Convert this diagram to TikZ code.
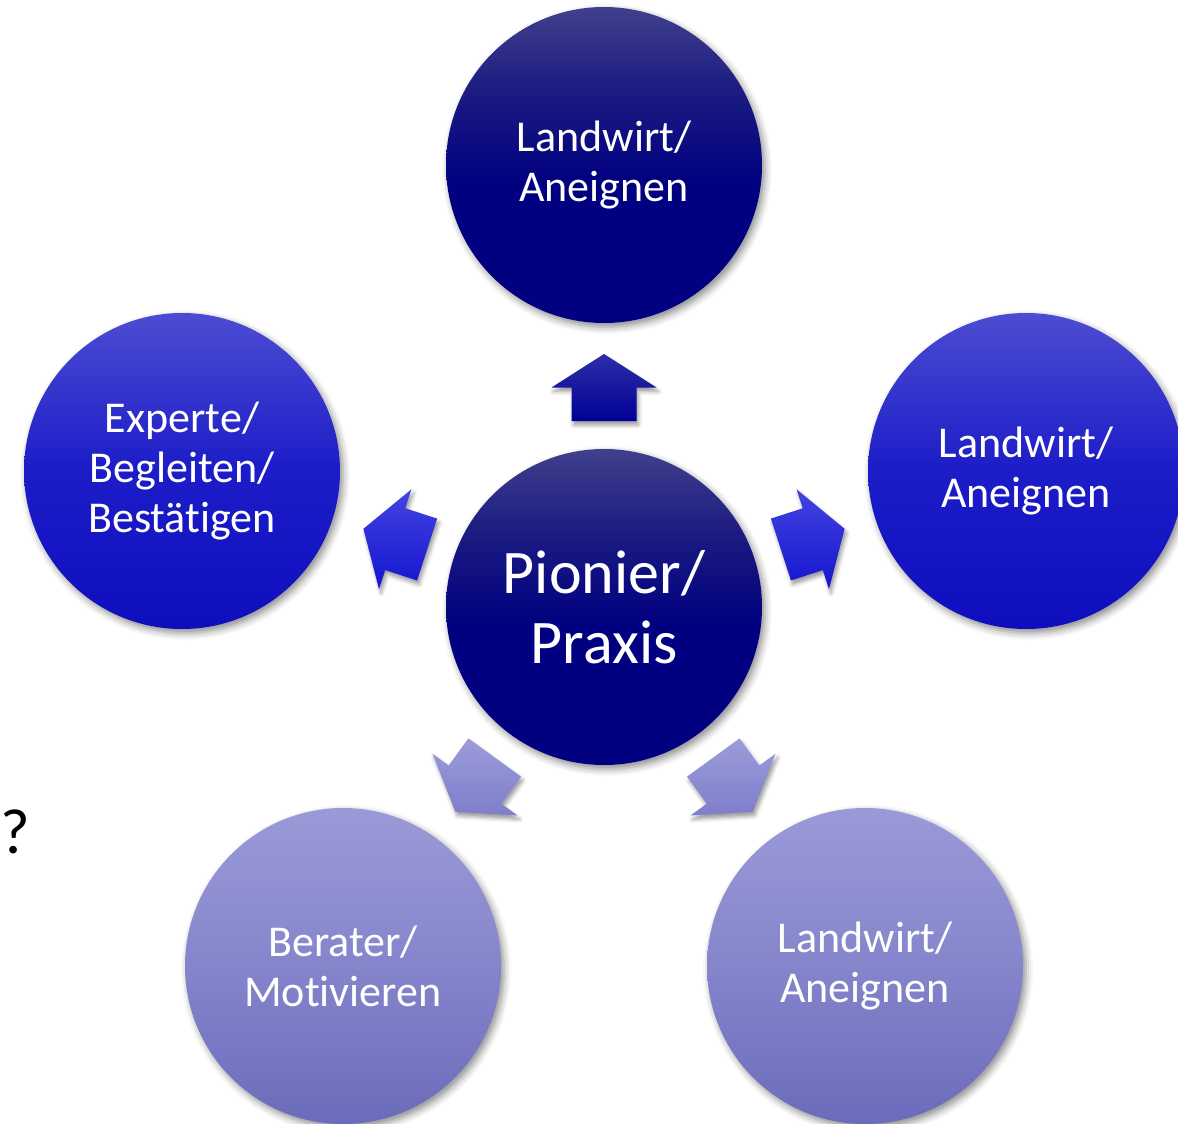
\documentclass[tikz,border=0pt]{standalone}
\usepackage{fontspec}
\setmainfont{Carlito}[Ligatures=NoCommon]
\usetikzlibrary{shadows.blur}

% disc colours: light top, dark bottom
\definecolor{navytop}{HTML}{40408C}
\definecolor{navymid}{HTML}{1C1C82}
\definecolor{navybot}{HTML}{000080}
\definecolor{bluetop}{HTML}{4C4CD2}
\definecolor{bluemid}{HTML}{1C1CC8}
\definecolor{bluebot}{HTML}{0E0EBE}
\definecolor{lilactop}{HTML}{9A9AD8}
\definecolor{lilacmid}{HTML}{8585CC}
\definecolor{lilacbot}{HTML}{6B6BBC}
% arrow colours
\definecolor{navyarrowtop}{HTML}{2E2EA8}
\definecolor{navyarrowbot}{HTML}{000096}
\definecolor{bluearrowtop}{HTML}{4444E2}
\definecolor{bluearrowbot}{HTML}{1414D0}
\definecolor{lilacarrowtop}{HTML}{9C9CDA}
\definecolor{lilacarrowbot}{HTML}{7E7ECC}

% the path is mapped onto 25bp..75bp
\pgfdeclareverticalshading{navyfade}{100bp}{color(0bp)=(navybot); color(47bp)=(navybot); color(62bp)=(navymid); color(75bp)=(navytop); color(100bp)=(navytop)}
\pgfdeclareverticalshading{bluefade}{100bp}{color(0bp)=(bluebot); color(25bp)=(bluebot); color(50bp)=(bluemid); color(75bp)=(bluetop); color(100bp)=(bluetop)}
\pgfdeclareverticalshading{lilacfade}{100bp}{color(0bp)=(lilacbot); color(25bp)=(lilacbot); color(50bp)=(lilacmid); color(75bp)=(lilactop); color(100bp)=(lilactop)}

\tikzset{
  disc/.style={circle, minimum size=316pt, inner sep=0pt, text=white, align=center,
    font=\fontsize{44}{50}\selectfont,
    blur shadow={shadow xshift=3pt, shadow yshift=-4pt, shadow blur radius=7pt, shadow opacity=45}},
  navydisc/.style={disc, shading=navyfade},
  bluedisc/.style={disc, shading=bluefade},
  lilacdisc/.style={disc, shading=lilacfade},
  blockarrow/.style={blur shadow={shadow xshift=2pt, shadow yshift=-4pt, shadow blur radius=4pt, shadow opacity=40}},
}

% a point (#1,#2) of the upward arrow, turned by \arrowturn about the arrow centre
\newcommand\arrowpt[2]{({\arrowcx+(#1)*cos(\arrowturn)+(#2)*sin(\arrowturn)},{\arrowcy-(#1)*sin(\arrowturn)+(#2)*cos(\arrowturn)})}

% block arrow pointing in direction #1 (degrees), placed around the centre disc;
% its gradient stays vertical on the page
\newcommand\ringarrow[3]{%
  \pgfmathsetmacro\arrowcx{604+219.5*cos(#1)}%
  \pgfmathsetmacro\arrowcy{607-219.5*sin(#1)}%
  \pgfmathsetmacro\arrowturn{#1-90}%
  \path[blockarrow, top color=#2, bottom color=#3]
    \arrowpt{0}{-33.5} -- \arrowpt{52.5}{0} -- \arrowpt{32.5}{0} -- \arrowpt{32.5}{33.5}
    -- \arrowpt{-32.5}{33.5} -- \arrowpt{-32.5}{0} -- \arrowpt{-52.5}{0} -- cycle;}

\begin{document}
\begin{tikzpicture}[x=1pt, y=-1pt]
  \useasboundingbox (0,0) rectangle (1178,1124);
  \clip (0,0) rectangle (1178,1124);

  % outer ring of discs
  \node[navydisc]  (top)   at (604,165)  {Landwirt/\\Aneignen};
  \node[bluedisc]  (left)  at (182,471)  {Experte/\\Begleiten/\\Bestätigen};
  \node[bluedisc]  (right) at (1026,471) {Landwirt/\\Aneignen};
  \node[lilacdisc] (bl)    at (343,966)  {Berater/\\Motivieren};
  \node[lilacdisc] (br)    at (865,966)  {Landwirt/\\Aneignen};

  % arrows from the centre outward
  \ringarrow{90}{navyarrowtop}{navyarrowbot}
  \ringarrow{162}{bluearrowtop}{bluearrowbot}
  \ringarrow{18}{bluearrowtop}{bluearrowbot}
  \ringarrow{234}{lilacarrowtop}{lilacarrowbot}
  \ringarrow{306}{lilacarrowtop}{lilacarrowbot}

  % centre disc
  \node[navydisc, font=\fontsize{62}{70}\selectfont] (centre) at (604,607) {Pionier/\\Praxis};

  \node[anchor=center, inner sep=0pt, font=\fontsize{64}{70}\selectfont] (q) at (15,832) {?};
\end{tikzpicture}
\end{document}
